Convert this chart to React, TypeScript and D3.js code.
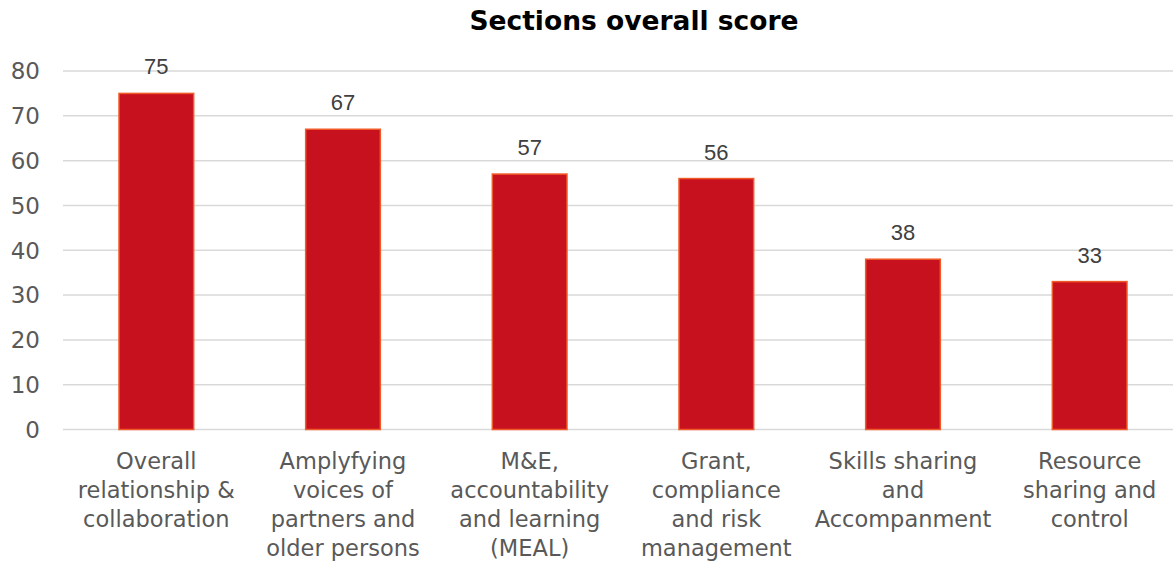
import { scaleBand, scaleLinear } from "d3";

const categories = [
  ["Overall", "relationship &", "collaboration"],
  ["Amplyfying", "voices of", "partners and", "older persons"],
  ["M&E,", "accountability", "and learning", "(MEAL)"],
  ["Grant,", "compliance", "and risk", "management"],
  ["Skills sharing", "and", "Accompanment"],
  ["Resource", "sharing and", "control"],
];
const scores = [75, 67, 57, 56, 38, 33];
const yTicks = [0, 10, 20, 30, 40, 50, 60, 70, 80];

const W = 1173;
const H = 563;
const margin = { top: 71, right: -10, bottom: 134, left: 63 };

export default function App() {
  const x = scaleBand<number>()
    .domain(scores.map((_, i) => i))
    .range([margin.left, W - margin.right])
    .paddingInner(0.6)
    .paddingOuter(0.3);
  const y = scaleLinear()
    .domain([0, 80])
    .range([H - margin.bottom + 0.5, margin.top]);

  return (
    <svg
      width={W}
      height={H}
      style={{ position: "absolute", top: 0, left: 0, background: "#fff" }}
    >
      <text
        x={634}
        y={30}
        textAnchor="middle"
        fontFamily="DejaVu Sans"
        fontWeight="bold"
        fontSize={26.5}
        fill="#000"
      >
        Sections overall score
      </text>

      {/* grid + y labels */}
      {yTicks.map((t) => (
        <g key={t}>
          <line
            x1={margin.left}
            x2={W}
            y1={y(t)}
            y2={y(t)}
            stroke="#d9d9d9"
            strokeWidth={1.5}
          />
          <text
            x={40}
            y={y(t)}
            dy="0.36em"
            textAnchor="end"
            fontFamily="DejaVu Sans"
            fontSize={23}
            fill="#595959"
          >
            {t}
          </text>
        </g>
      ))}

      {/* bars */}
      {scores.map((v, i) => (
        <g key={i}>
          <rect
            x={x(i)!}
            y={y(v)}
            width={x.bandwidth()}
            height={y(0) - y(v)}
            fill="#c8111f"
            stroke="#f05a28"
            strokeWidth={1.5}
          />
          <text
            x={x(i)! + x.bandwidth() / 2}
            y={y(v) - 19}
            textAnchor="middle"
            fontFamily="Liberation Sans, Arial"
            fontSize={22}
            fill="#404040"
          >
            {v}
          </text>
        </g>
      ))}

      {/* x labels */}
      {categories.map((lines, i) => (
        <text
          key={i}
          x={x(i)! + x.bandwidth() / 2}
          y={469}
          textAnchor="middle"
          fontFamily="DejaVu Sans"
          fontSize={22.5}
          fill="#595959"
        >
          {lines.map((l, j) => (
            <tspan key={j} x={x(i)! + x.bandwidth() / 2} dy={j === 0 ? 0 : 29}>
              {l}
            </tspan>
          ))}
        </text>
      ))}
    </svg>
  );
}
